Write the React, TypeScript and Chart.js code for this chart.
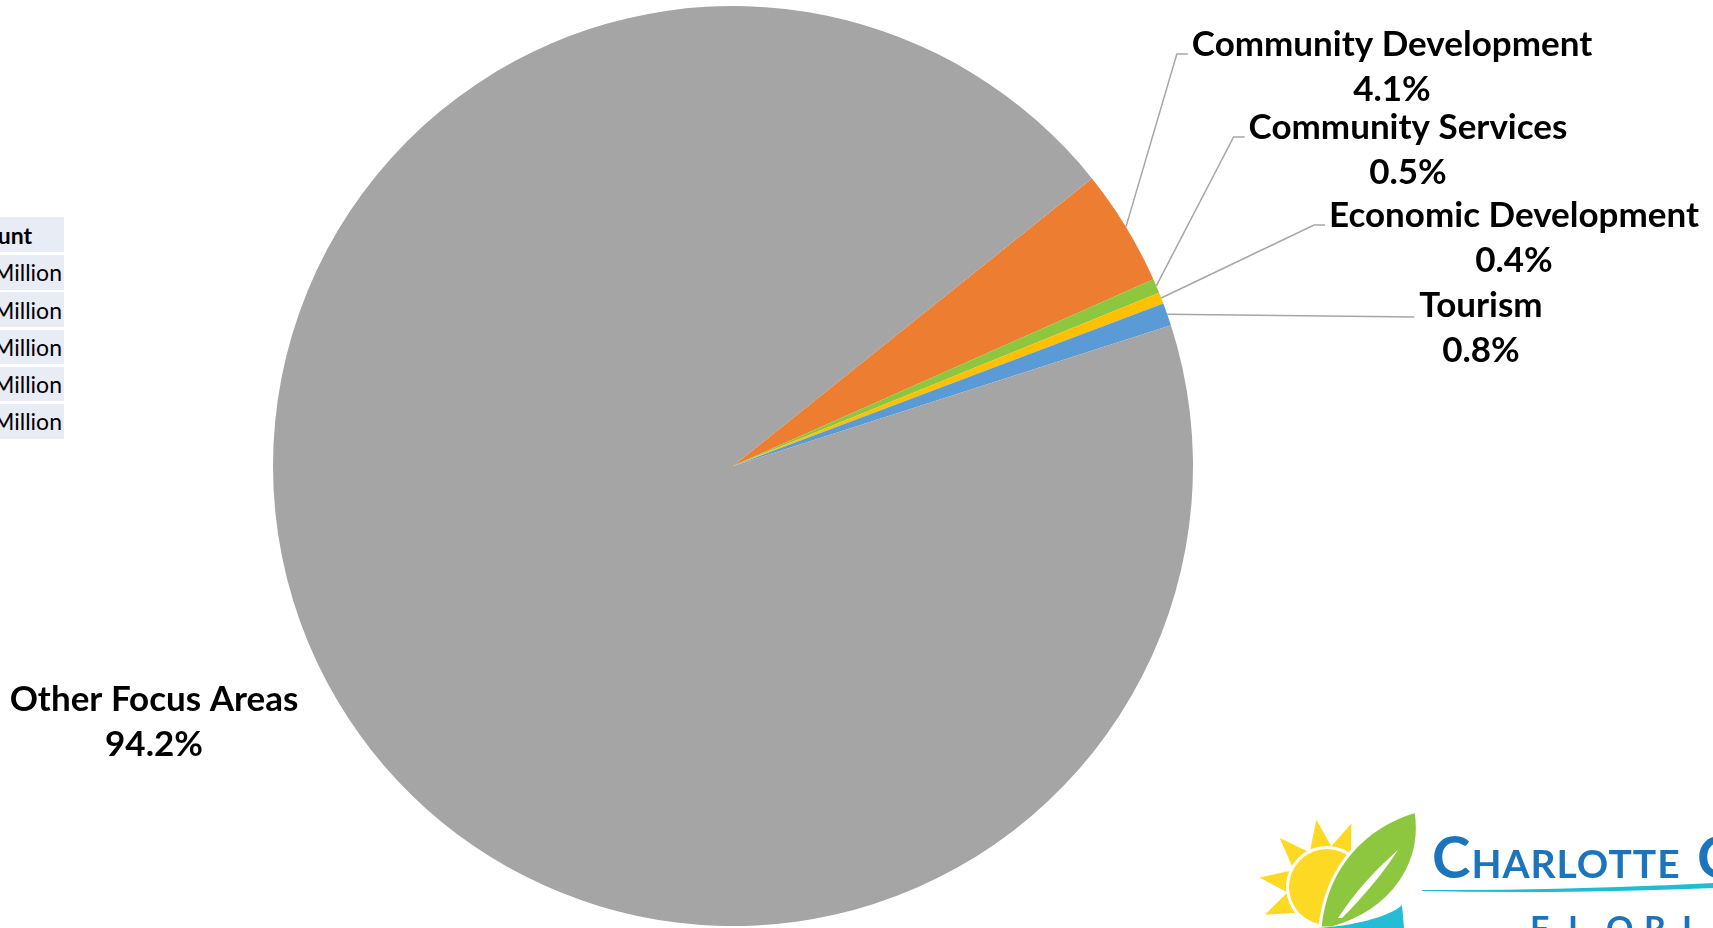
import React, { useEffect, useRef } from "react";
import { Chart, registerables } from "chart.js";

Chart.register(...registerables);

// ---- data ----
const categories = [
  "Community Development",
  "Community Services",
  "Economic Development",
  "Tourism",
  "Other Focus Areas",
];
const shares = [4.1, 0.5, 0.4, 0.8, 94.2];
const shareLabels = ["4.1%", "0.5%", "0.4%", "0.8%", "94.2%"];
const sliceColors = ["#ED7D31", "#8DC63F", "#FFC000", "#5B9BD5", "#A5A5A5"];
const tableHeader = "Amount";
const tableRows = ["Million", "Million", "Million", "Million", "Million"];

// ---- layout (label placement, not data) ----
const LABEL_FONT = "Lato, 'Open Sans', sans-serif";
const LABEL_SIZE = 35;
const LINE_GAP = 45;
const labelLayout = [
  { cx: 1392, b1: 56, leader: true, elbow: true },
  { cx: 1408, b1: 139, leader: true, elbow: true },
  { cx: 1514, b1: 227, leader: true, elbow: true },
  { cx: 1481, b1: 317, leader: true, elbow: false },
  { cx: 154, b1: 711, leader: false, elbow: false },
];

const labelPlugin = {
  id: "pieLabels",
  afterDatasetsDraw(chart: any) {
    const ctx = chart.ctx;
    const meta = chart.getDatasetMeta(0);
    ctx.save();
    ctx.font = `bold ${LABEL_SIZE}px ${LABEL_FONT}`;
    meta.data.forEach((arc: any, i: number) => {
      const p = arc.getProps(["x", "y", "startAngle", "endAngle", "outerRadius"], true);
      const mid = (p.startAngle + p.endAngle) / 2;
      const px = p.x + Math.cos(mid) * p.outerRadius;
      const py = p.y + Math.sin(mid) * p.outerRadius;
      const L = labelLayout[i];
      const w = ctx.measureText(categories[i]).width;
      const left = L.cx - w / 2;
      if (L.leader) {
        ctx.strokeStyle = "#A6A6A6";
        ctx.lineWidth = 1.5;
        ctx.beginPath();
        ctx.moveTo(px, py);
        if (L.elbow) {
          ctx.lineTo(left - 15, L.b1 - 2);
          ctx.lineTo(left - 4, L.b1 - 2);
        } else {
          ctx.lineTo(left - 5, L.b1);
        }
        ctx.stroke();
      }
      ctx.fillStyle = "#000000";
      ctx.textAlign = "center";
      ctx.textBaseline = "alphabetic";
      ctx.fillText(categories[i], L.cx, L.b1);
      ctx.fillText(shareLabels[i], L.cx, L.b1 + LINE_GAP);
    });
    ctx.restore();
  },
};

function Logo() {
  const cx = 1327;
  const cy = 887;
  const rayAngles = [156, 188, 226, 261, 291];
  const rays = rayAngles.map((a) => {
    const r = (a * Math.PI) / 180;
    const half = 0.28;
    const ri = 40;
    const ro = 68;
    const x1 = cx + Math.cos(r - half) * ri;
    const y1 = cy + Math.sin(r - half) * ri;
    const x2 = cx + Math.cos(r + half) * ri;
    const y2 = cy + Math.sin(r + half) * ri;
    const xt = cx + Math.cos(r) * ro;
    const yt = cy + Math.sin(r) * ro;
    return `M${x1},${y1} L${xt},${yt} L${x2},${y2} Z`;
  });
  const florida = ["F", "L", "O", "R", "I", "D", "A"];
  return (
    <svg
      width={1713}
      height={928}
      style={{ position: "absolute", left: 0, top: 0, pointerEvents: "none" }}
    >
      {rays.map((d, i) => (
        <path key={i} d={d} fill="#FDD923" />
      ))}
      <circle cx={cx} cy={cy} r={41} fill="#FFFFFF" />
      <circle cx={cx} cy={cy} r={38} fill="#FDD923" />
      <path
        d="M1320,928 C1326,865 1366,826 1416,811 C1424,862 1394,910 1332,928 Z"
        fill="#8DC63F"
        stroke="#FFFFFF"
        strokeWidth={3}
      />
      <path d="M1338,918 C1360,885 1380,866 1398,850 C1384,872 1364,896 1342,918 Z" fill="#FFFFFF" />
      <path d="M1318,928 C1350,926 1388,918 1402,905 L1404,928 Z" fill="#25BCD5" />
      <text
        x={1432}
        y={878}
        fill="#1C75BC"
        fontFamily="Lato, 'Open Sans', sans-serif"
        fontWeight={700}
        letterSpacing={1}
      >
        <tspan fontSize={58}>C</tspan>
        <tspan fontSize={39}>HARLOTTE</tspan>
        <tspan x={1697} fontSize={58}>C</tspan>
      </text>
      <path d="M1422,890 Q1560,891 1713,883 L1713,888 Q1560,894 1422,891 Z" fill="#22BCD2" />
      {florida.map((ch, i) => (
        <text
          key={i}
          x={1530 + i * 38}
          y={941}
          fill="#1C75BC"
          fontFamily="Lato, 'Open Sans', sans-serif"
          fontWeight={700}
          fontSize={34}
        >
          {ch}
        </text>
      ))}
    </svg>
  );
}

function Table() {
  const cellStyle: React.CSSProperties = {
    position: "absolute",
    left: -120,
    width: 184,
    background: "#E8ECF4",
    display: "flex",
    alignItems: "center",
    justifyContent: "flex-end",
    fontFamily: "Lato, 'Open Sans', sans-serif",
    color: "#000",
    whiteSpace: "nowrap",
    boxSizing: "border-box",
  };
  return (
    <div style={{ position: "absolute", left: 0, top: 0, width: 70, height: 460, overflow: "hidden" }}>
      <div
        style={{
          ...cellStyle,
          top: 217,
          height: 35,
          fontWeight: 700,
          fontSize: 23,
          paddingRight: 32,
        }}
      >
        {tableHeader}
      </div>
      {tableRows.map((t, i) => (
        <div
          key={i}
          style={{
            ...cellStyle,
            top: 255 + i * 37.3,
            height: 34.5,
            fontSize: 23,
            paddingRight: 2,
          }}
        >
          {t}
        </div>
      ))}
    </div>
  );
}

export default function App() {
  const canvasRef = useRef<HTMLCanvasElement | null>(null);

  useEffect(() => {
    if (!canvasRef.current) return;
    const chart = new Chart(canvasRef.current, {
      type: "pie",
      data: {
        labels: categories,
        datasets: [
          {
            data: shares,
            backgroundColor: sliceColors,
            borderWidth: 0,
          },
        ],
      },
      options: {
        responsive: false,
        animation: false,
        rotation: 51.3,
        layout: { padding: { top: 6, bottom: 2, left: 0, right: 247 } },
        plugins: {
          legend: { display: false },
          tooltip: { enabled: false },
        },
      },
      plugins: [labelPlugin],
    } as any);
    return () => chart.destroy();
  }, []);

  return (
    <div
      style={{
        position: "fixed",
        left: 0,
        top: 0,
        width: 1713,
        height: 928,
        overflow: "hidden",
        background: "#FFFFFF",
      }}
    >
      <Table />
      <canvas
        ref={canvasRef}
        width={1713}
        height={928}
        style={{ position: "absolute", left: 0, top: 0, display: "block" }}
      />
      <Logo />
    </div>
  );
}
